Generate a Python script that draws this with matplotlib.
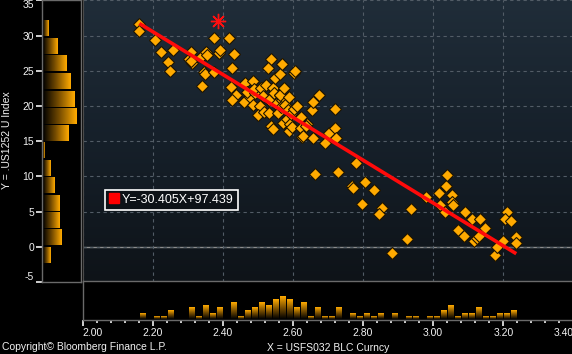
import numpy as np
import matplotlib
matplotlib.use("Agg")
import matplotlib.pyplot as plt
from matplotlib.colors import LinearSegmentedColormap
from matplotlib.lines import Line2D

plt.rcParams['font.family'] = ['Liberation Sans', 'DejaVu Sans']

# ---------------- data ----------------
x_vals = [2.162, 2.162, 2.207, 2.224, 2.244, 2.250, 2.258, 2.304, 2.310, 2.312,
          2.308, 2.337, 2.351, 2.355, 2.347, 2.349, 2.341, 2.375, 2.376, 2.389,
          2.392, 2.418, 2.433, 2.425, 2.422, 2.438, 2.425, 2.459, 2.463, 2.477,
          2.470, 2.487, 2.493, 2.490, 2.485, 2.509, 2.506, 2.500, 2.517, 2.515,
          2.523, 2.532, 2.532, 2.538, 2.528, 2.542, 2.537, 2.542, 2.550, 2.545,
          2.552, 2.556, 2.564, 2.570, 2.562, 2.569, 2.563, 2.566, 2.573, 2.575,
          2.578, 2.583, 2.585, 2.588, 2.591, 2.590, 2.595, 2.598, 2.604, 2.606,
          2.604, 2.612, 2.622, 2.623, 2.626, 2.629, 2.639, 2.637, 2.655, 2.658,
          2.658, 2.675, 2.664, 2.691, 2.704, 2.721, 2.721, 2.723, 2.729, 2.780,
          2.769, 2.772, 2.806, 2.798, 2.832, 2.855, 2.846, 2.883, 2.926, 2.937,
          2.980, 3.017, 3.019, 3.034, 3.037, 3.040, 3.054, 3.054, 3.057, 3.072,
          3.092, 3.088, 3.112, 3.117, 3.134, 3.126, 3.130, 3.147, 3.177, 3.183,
          3.198, 3.211, 3.205, 3.223, 3.237, 3.237]
y_vals = [31.7, 30.6, 29.3, 27.7, 26.2, 25.0, 28.0, 26.7, 27.6, 26.1,
          26.4, 26.9, 27.7, 27.3, 24.8, 24.5, 22.9, 29.7, 24.8, 27.5,
          27.9, 29.6, 27.4, 25.4, 22.7, 21.5, 20.9, 20.5, 23.3, 21.2,
          22.0, 23.5, 21.8, 22.4, 20.2, 22.5, 20.0, 18.7, 19.2, 21.4,
          23.0, 19.0, 20.9, 26.6, 25.4, 22.6, 17.2, 16.7, 23.9, 21.8,
          20.3, 19.0, 24.5, 26.0, 21.6, 20.8, 21.5, 19.8, 17.6, 22.6,
          20.2, 18.2, 19.4, 21.2, 17.5, 16.4, 18.9, 17.0, 24.7, 24.9,
          19.5, 20.0, 18.4, 16.8, 15.6, 15.8, 17.5, 17.2, 19.4, 20.5,
          15.4, 21.5, 10.3, 14.7, 16.1, 19.6, 16.8, 15.4, 10.6, 11.9,
          8.6, 8.4, 9.2, 6.1, 8.1, 5.5, 4.6, -0.9, 1.05, 5.3,
          7.1, 7.7, 6.0, 4.9, 8.7, 10.2, 7.4, 6.3, 6.0, 2.4,
          4.9, 1.6, 3.9, 0.85, 3.9, 1.2, 1.5, 2.6, -1.2, -0.1,
          0.77, 4.9, 4.0, 3.7, 1.4, 0.5]

current_x = [2.387]
current_y = [32.0]

slope = -30.405
intercept = 97.439

# left histogram (Y distribution)
y_bin_centers = [-1.2, 1.3, 3.75, 6.2, 8.7, 11.2, 13.7, 16.1, 18.6, 21.0, 23.5, 26.0, 28.5, 31.0]
y_bin_counts = [4, 10, 9, 9, 6, 4, 1, 14, 18, 17, 15, 13, 8, 3]

# bottom histogram (X distribution)
x_bin_centers = [2.17, 2.21, 2.23, 2.25, 2.31, 2.33, 2.35, 2.37, 2.39, 2.43,
                 2.45, 2.47, 2.49, 2.51, 2.53, 2.55, 2.57, 2.59, 2.61, 2.63,
                 2.65, 2.67, 2.69, 2.71, 2.73, 2.77, 2.79, 2.81, 2.83, 2.85,
                 2.89, 2.93, 2.95, 2.99, 3.01, 3.03, 3.05, 3.07, 3.09, 3.11,
                 3.13, 3.15, 3.17, 3.19, 3.21, 3.23]
x_bin_counts = [2, 1, 1, 3, 4, 1, 5, 2, 4, 6,
                1, 3, 4, 6, 5, 7, 8, 7, 4, 6,
                1, 4, 1, 1, 4, 2, 1, 2, 1, 2,
                2, 1, 1, 1, 1, 3, 5, 1, 2, 2,
                4, 1, 1, 2, 2, 3]

x_ticks = [2.00, 2.20, 2.40, 2.60, 2.80, 3.00, 3.20, 3.40]
y_ticks = [-5, 0, 5, 10, 15, 20, 25, 30, 35]

y_label = "Y = .US1252 U Index"
x_label = "X = USFS032 BLC Curncy"
copyright_text = "Copyright\u00a9 Bloomberg Finance L.P."

# ---------------- layout ----------------
W, H = 572, 354
fig = plt.figure(figsize=(W / 100, H / 100), dpi=100, facecolor='black')


def px_axes(l, t, r, b):
    return fig.add_axes([l / W, 1 - b / H, (r - l) / W, (b - t) / H])


bar_cmap = LinearSegmentedColormap.from_list('bar', ['#000000', '#7a4f00', '#FFAA00'])
bg_cmap = LinearSegmentedColormap.from_list('bg', ['#0e1318', '#16202a', '#202d39'])

TXT = '#f2f2f2'
SPINE = '#6a6a6a'

# ---------------- main scatter ----------------
ax = px_axes(82.6, 0.3, 573.4, 282.0)
ax.set_facecolor('#121920')
ax.imshow(np.linspace(0, 1, 256).reshape(-1, 1), extent=[0, 1, 0, 1],
          transform=ax.transAxes, cmap=bg_cmap, origin='lower',
          aspect='auto', zorder=0, interpolation='bilinear')
ax.set_xticks(x_ticks)
ax.set_yticks(y_ticks)
ax.grid(True, color='#525c66', linestyle=(0, (3, 3)), linewidth=0.8, zorder=1)
ax.axhline(0, color='#8c8c8c', linewidth=1.0, zorder=1.5)
ax.tick_params(length=0, labelbottom=False, labelleft=False)
for s in ['top', 'right', 'bottom']:
    ax.spines[s].set_visible(False)
ax.spines['left'].set_color('#4a4a4a')

ax.plot(x_vals, y_vals, linestyle='none', marker='D', ms=5.9,
        mfc='#FFAA00', mec='#1e1400', mew=0.8, zorder=3)
xs_line = np.array([min(x_vals), max(x_vals)])
ax.plot(xs_line, slope * xs_line + intercept, color='#FF0A0A', lw=2.6,
        zorder=4, solid_capstyle='butt')
ax.plot(current_x, current_y, linestyle='none', marker=(8, 2, 0), ms=11,
        mec='#FF1010', mew=1.0, zorder=5)
ax.set_xlim(2.0, 3.4)
ax.set_ylim(-5, 35)

eq = f"Y={slope:.3f}X+{intercept:.3f}"
leg = ax.legend(handles=[Line2D([], [], marker='s', ls='none', color='#FF0000', ms=7.5)],
                labels=[eq], loc='upper left',
                bbox_to_anchor=(105.3 / W, 1 - 190 / H), bbox_transform=fig.transFigure,
                frameon=True, fancybox=False, edgecolor='white', facecolor='#0d1217',
                framealpha=1, fontsize=9, handlelength=0.8, handletextpad=0.25,
                borderpad=0.3, borderaxespad=0)
leg.get_frame().set_linewidth(1.2)
for t in leg.get_texts():
    t.set_color('white')

# ---------------- left histogram ----------------
axl = px_axes(42.3, 0.3, 81.3, 282.0)
axl.set_facecolor('black')
bars = axl.barh(y_bin_centers, y_bin_counts, height=2.2, left=0,
                color='none', edgecolor='none')
for p in bars.patches:
    x0, y0, w, h = p.get_x(), p.get_y(), p.get_width(), p.get_height()
    axl.imshow(np.linspace(0, 1, 64).reshape(1, -1), extent=[x0, x0 + w, y0, y0 + h],
               cmap=bar_cmap, origin='lower', aspect='auto', zorder=2,
               interpolation='bilinear')
axl.set_xlim(-0.15, 21.1)
axl.set_ylim(-5, 35)
axl.set_xticks([])
axl.set_yticks(y_ticks)
axl.set_yticklabels([str(v) for v in y_ticks])
axl.tick_params(axis='y', colors=TXT, labelcolor=TXT, length=4.3, width=1.2,
                pad=1.5, labelsize=7.5)
labs = axl.get_yticklabels()
labs[0].set_va('bottom')
labs[-1].set_va('top')
for s in axl.spines.values():
    s.set_color(SPINE)
    s.set_linewidth(1.0)

# ---------------- bottom histogram ----------------
axb = px_axes(82.6, 281.3, 573.4, 320.3)
axb.set_facecolor('black')
vb = axb.bar(x_bin_centers, x_bin_counts, width=0.0152, bottom=0,
             color='none', edgecolor='none')
for p in vb.patches:
    x0, y0, w, h = p.get_x(), p.get_y(), p.get_width(), p.get_height()
    axb.imshow(np.linspace(0, 1, 64).reshape(-1, 1), extent=[x0, x0 + w, y0, y0 + h],
               cmap=bar_cmap, origin='lower', aspect='auto', zorder=2,
               interpolation='bilinear')
axb.set_xlim(2.0, 3.4)
axb.set_ylim(-0.55, 13.4)
axb.set_yticks([])
axb.set_xticks(x_ticks)
axb.set_xticks(np.arange(2.0, 3.41, 0.04), minor=True)
axb.set_xticklabels([f"{v:.2f}" for v in x_ticks])
axb.tick_params(axis='x', which='major', colors=TXT, labelcolor=TXT, length=4.6,
                width=1.2, pad=1.2, labelsize=7.5)
axb.tick_params(axis='x', which='minor', colors=TXT, length=2.4, width=1.2)
xl = axb.get_xticklabels()
xl[0].set_ha('left')
xl[-1].set_ha('right')
for s in ['top', 'left', 'bottom']:
    axb.spines[s].set_color(SPINE)
    axb.spines[s].set_linewidth(1.0)
axb.spines['right'].set_visible(False)

# ---------------- texts ----------------
fig.text(6.7 / W, 1 - 140 / H, y_label, rotation=90, ha='center', va='center',
         color=TXT, fontsize=7.5)
fig.text(2 / W, 1 - 347 / H, copyright_text, ha='left', va='center',
         color=TXT, fontsize=7.5)
fig.text(328 / W, 1 - 348 / H, x_label, ha='center', va='center',
         color=TXT, fontsize=7.5)

fig.savefig('out.png', dpi=100, facecolor='black')
